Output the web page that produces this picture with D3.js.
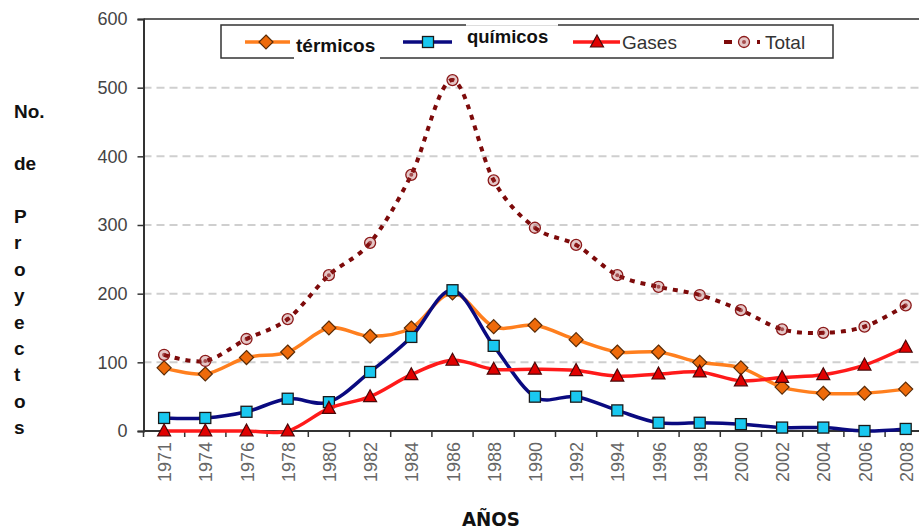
<!DOCTYPE html>
<html>
<head>
<meta charset="utf-8">
<script src="https://cdn.jsdelivr.net/npm/d3@7"></script>
<style>
  body { margin: 0; background: #fff; }
  svg { display: block; font-family: "Liberation Sans", Arial, sans-serif; }
</style>
</head>
<body>
<div id="chart"></div>
<script>
// data
const years = ["1971","1974","1976","1978","1980","1982","1984","1986","1988","1990",
               "1992","1994","1996","1998","2000","2002","2004","2006","2008"];
const termicos = [92, 83, 107, 115, 150, 138, 150, 201, 152, 154, 133, 115, 115, 100, 92, 64, 55, 55, 61];
const quimicos = [19, 19, 28, 47, 42, 86, 137, 205, 124, 50, 50, 30, 12, 12, 10, 5, 5, 0, 3];
const gases    = [0, 0, 0, 0, 33, 50, 82, 103, 90, 90, 88, 80, 83, 86, 73, 78, 82, 96, 122];
const total    = [111, 102, 134, 163, 227, 274, 373, 511, 365, 296, 271, 227, 210, 198, 176, 148, 143, 152, 183];
const yTicks = [0, 100, 200, 300, 400, 500, 600];
const yLabel = ["No.", "de", "P", "r", "o", "y", "e", "c", "t", "o", "s"];

const width = 919, height = 531;
const margin = { top: 19, left: 143.5, bottom: 100 };

const svg = d3.select("#chart").append("svg")
    .attr("width", width).attr("height", height);

// scales
const x = d3.scaleBand().domain(years).range([margin.left, margin.left + 41.2 * years.length]).padding(0);
const cx = d => x(d) + x.bandwidth() / 2;
const y = d3.scaleLinear().domain([0, 600]).range([height - margin.bottom, margin.top]);

// gridlines
svg.append("g").selectAll("line")
    .data(yTicks.filter(d => d > 0 && d < 600))
    .join("line")
    .attr("x1", margin.left).attr("x2", width)
    .attr("y1", d => y(d)).attr("y2", d => y(d))
    .attr("stroke", "#cfcfcf").attr("stroke-width", 2)
    .attr("stroke-dasharray", "8,5");

// top border
svg.append("line")
    .attr("x1", margin.left).attr("x2", width)
    .attr("y1", y(600)).attr("y2", y(600))
    .attr("stroke", "#606060").attr("stroke-width", 2);

// y axis
const yaxis = d3.axisLeft(y).tickValues(yTicks).tickSize(6).tickPadding(10);
const gy = svg.append("g")
    .attr("transform", `translate(${margin.left},0)`)
    .call(yaxis);
gy.select(".domain").attr("stroke", "#333").attr("stroke-width", 2);
gy.selectAll(".tick line").attr("stroke", "#333").attr("stroke-width", 1.5);
gy.selectAll(".tick text")
    .attr("font-size", 18).attr("fill", "#444")
    .attr("font-family", "'Liberation Sans', Arial, sans-serif");

// x axis (ticks between categories)
const gx = svg.append("g");
gx.append("line")
    .attr("x1", margin.left).attr("x2", width)
    .attr("y1", y(0)).attr("y2", y(0))
    .attr("stroke", "#333").attr("stroke-width", 2);
gx.selectAll("line.tk")
    .data(years.concat(["end"]))
    .join("line")
    .attr("class", "tk")
    .attr("x1", (d, i) => margin.left + i * x.bandwidth())
    .attr("x2", (d, i) => margin.left + i * x.bandwidth())
    .attr("y1", y(0)).attr("y2", y(0) + 6)
    .attr("stroke", "#333").attr("stroke-width", 1.5);
gx.selectAll("text")
    .data(years)
    .join("text")
    .attr("transform", d => `translate(${cx(d) + 7},442) rotate(-90)`)
    .attr("text-anchor", "end")
    .attr("font-size", 18)
    .attr("fill", "#666")
    .text(d => d);

// series
const series = [
  { name: "térmicos", values: termicos, line: "#ff7f1e", width: 3.5, dash: null,
    marker: "diamond", fill: "#ee6a0a", stroke: "#5a2c08" },
  { name: "químicos", values: quimicos, line: "#0a0a80", width: 3.5, dash: null,
    marker: "square", fill: "#19c8f0", stroke: "#1a1a1a" },
  { name: "Gases", values: gases, line: "#ff1a1a", width: 3.5, dash: null,
    marker: "triangle", fill: "#e00000", stroke: "#4a0808" },
  { name: "Total", values: total, line: "#7d0a0a", width: 4, dash: "5,6",
    marker: "circle", fill: "rgba(150,30,30,0.25)", stroke: "#8b1a1a" }
];

const lineGen = d3.line()
    .x((d, i) => cx(years[i]))
    .y(d => y(d))
    .curve(d3.curveCatmullRom.alpha(0));

function drawMarker(g, type, s) {
  if (type === "diamond") {
    g.append("path").attr("d", "M0,-7L7,0L0,7L-7,0Z")
      .attr("fill", s.fill).attr("stroke", s.stroke).attr("stroke-width", 1.2);
  } else if (type === "square") {
    g.append("rect").attr("x", -5.5).attr("y", -5.5).attr("width", 11).attr("height", 11)
      .attr("fill", s.fill).attr("stroke", s.stroke).attr("stroke-width", 1.3);
  } else if (type === "triangle") {
    g.append("path").attr("d", "M0,-7L6.5,5L-6.5,5Z")
      .attr("fill", s.fill).attr("stroke", s.stroke).attr("stroke-width", 1.2);
  } else {
    g.append("circle").attr("r", 5.5)
      .attr("fill", s.fill).attr("stroke", s.stroke).attr("stroke-width", 1.3);
    g.append("circle").attr("r", 2).attr("fill", "#8b1a1a").attr("opacity", 0.7);
  }
}

series.forEach(s => {
  const g = svg.append("g");
  g.append("path")
    .datum(s.values)
    .attr("d", lineGen)
    .attr("fill", "none")
    .attr("stroke", s.line)
    .attr("stroke-width", s.width)
    .attr("stroke-dasharray", s.dash)
    .attr("stroke-linejoin", "round");
  g.selectAll("g.pt")
    .data(s.values)
    .join("g")
    .attr("class", "pt")
    .attr("transform", (d, i) => `translate(${cx(years[i])},${y(d)})`)
    .each(function () { drawMarker(d3.select(this), s.marker, s); });
});

// legend
const lg = svg.append("g");
lg.append("rect")
    .attr("x", 221).attr("y", 25).attr("width", 612).attr("height", 33)
    .attr("fill", "#fff").attr("stroke", "#333").attr("stroke-width", 1.5);
// white patches behind two of the labels
lg.append("rect").attr("x", 294).attr("y", 33).attr("width", 86).attr("height", 30).attr("fill", "#fff");
lg.append("rect").attr("x", 466).attr("y", 23).attr("width", 92).attr("height", 20).attr("fill", "#fff");
lg.append("line").attr("x1", 466).attr("x2", 558).attr("y1", 25.5).attr("y2", 25.5)
    .attr("stroke", "#ddd").attr("stroke-width", 1);

const legendPos = [
  { x0: 245, x1: 290, mx: 266, tx: 296, ty: 52, bold: true, size: 19, color: "#111" },
  { x0: 403, x1: 452, mx: 428, tx: 467, ty: 43, bold: true, size: 18.5, color: "#111" },
  { x0: 573, x1: 620, mx: 597, tx: 622, ty: 49, bold: false, size: 19, color: "#333" },
  { x0: 724, x1: 760, mx: 744, tx: 765, ty: 49, bold: false, size: 19, color: "#333" }
];
series.forEach((s, i) => {
  const p = legendPos[i];
  if (s.dash) {
    lg.append("line").attr("x1", p.x0).attr("x2", p.x0 + 8).attr("y1", 42).attr("y2", 42)
      .attr("stroke", s.line).attr("stroke-width", 4);
    lg.append("line").attr("x1", p.x1 - 3).attr("x2", p.x1).attr("y1", 42).attr("y2", 42)
      .attr("stroke", s.line).attr("stroke-width", 4);
  } else {
    lg.append("line").attr("x1", p.x0).attr("x2", p.x1).attr("y1", 42).attr("y2", 42)
      .attr("stroke", s.line).attr("stroke-width", s.width);
  }
  drawMarker(lg.append("g").attr("transform", `translate(${p.mx},42)`), s.marker, s);
  lg.append("text")
    .attr("x", p.tx).attr("y", p.ty)
    .attr("font-size", p.size)
    .attr("font-weight", p.bold ? "bold" : "normal")
    .attr("fill", p.color)
    .text(s.name);
});

// y axis title, one word / letter per row
const yl = svg.append("g");
yl.selectAll("text")
    .data(yLabel)
    .join("text")
    .attr("x", 14)
    .attr("y", (d, i) => i === 0 ? 118 : i === 1 ? 170 : 223 + (i - 2) * 26.4)
    .attr("font-size", 19)
    .attr("font-weight", "bold")
    .attr("fill", "#111")
    .text(d => d);

// x axis title
svg.append("text")
    .attr("x", 491).attr("y", 526)
    .attr("text-anchor", "middle")
    .attr("font-family", "'Liberation Sans Narrow', 'Arial Narrow', 'DejaVu Sans Condensed', sans-serif")
    .attr("font-size", 20)
    .attr("font-weight", "bold")
    .attr("fill", "#111")
    .attr("textLength", 58)
    .attr("lengthAdjust", "spacingAndGlyphs")
    .text("AÑOS");
</script>
</body>
</html>
